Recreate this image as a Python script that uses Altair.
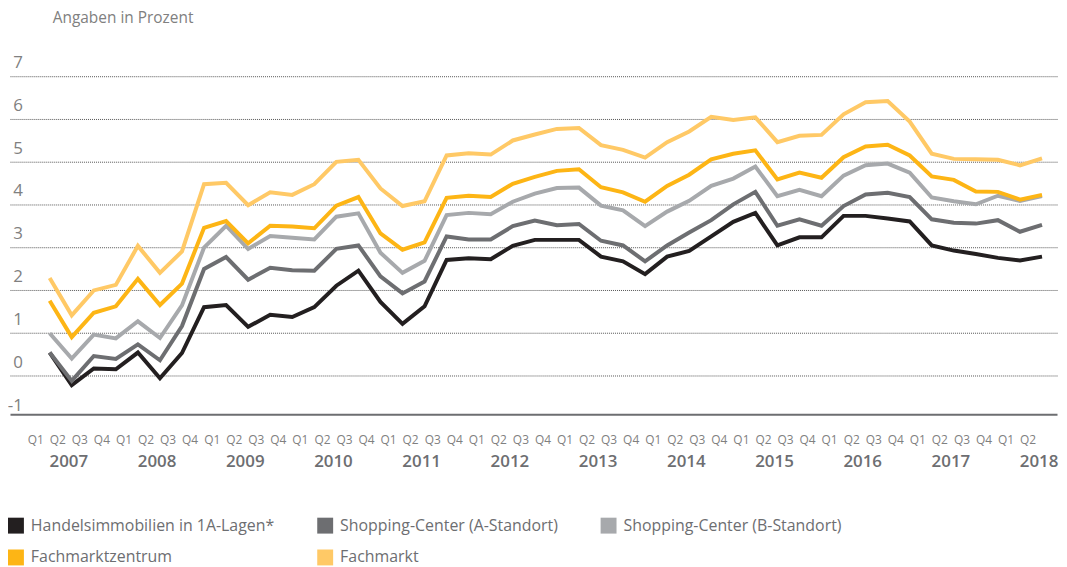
import altair as alt
import pandas as pd

years = list(range(2007, 2019))
quarter_names = ["Q1", "Q2", "Q3", "Q4"]
y_ticks = [-1, 0, 1, 2, 3, 4, 5, 6, 7]

series_names = [
    "Handelsimmobilien in 1A-Lagen*",
    "Shopping-Center (A-Standort)",
    "Shopping-Center (B-Standort)",
    "Fachmarktzentrum",
    "Fachmarkt",
]
colors = ["#231f20", "#6d6e71", "#a7a9ac", "#fdb515", "#ffc966"]

handels = [0.54, -0.22, 0.17, 0.15, 0.54, -0.06, 0.53, 1.60, 1.65, 1.14, 1.42, 1.37,
           1.60, 2.10, 2.45, 1.72, 1.21, 1.62, 2.70, 2.74, 2.72, 3.03, 3.17, 3.17,
           3.17, 2.78, 2.67, 2.37, 2.78, 2.91, 3.25, 3.59, 3.80, 3.04, 3.23,
           3.23, 3.73, 3.73, 3.67, 3.60, 3.04, 2.92, 2.84, 2.75, 2.69, 2.78]
sc_a = [0.54, -0.12, 0.46, 0.39, 0.73, 0.36, 1.16, 2.49, 2.77, 2.24, 2.52, 2.46,
        2.45, 2.96, 3.04, 2.32, 1.92, 2.20, 3.25, 3.18, 3.18, 3.49, 3.62, 3.51,
        3.54, 3.15, 3.04, 2.67, 3.04, 3.34, 3.63, 4.00, 4.29, 3.50, 3.65,
        3.50, 3.96, 4.23, 4.27, 4.17, 3.65, 3.57, 3.55, 3.63, 3.36, 3.52]
sc_b = [0.99, 0.40, 0.96, 0.87, 1.27, 0.88, 1.64, 2.99, 3.50, 2.96, 3.26, 3.22,
        3.18, 3.71, 3.79, 2.87, 2.40, 2.68, 3.75, 3.80, 3.77, 4.06, 4.25, 4.38,
        4.39, 3.97, 3.86, 3.49, 3.83, 4.08, 4.43, 4.60, 4.88, 4.19, 4.34,
        4.19, 4.67, 4.91, 4.95, 4.74, 4.16, 4.07, 4.00, 4.20, 4.08, 4.19]
fmz = [1.75, 0.90, 1.47, 1.62, 2.26, 1.65, 2.15, 3.45, 3.61, 3.09, 3.50, 3.48,
       3.44, 3.97, 4.17, 3.32, 2.94, 3.11, 4.15, 4.20, 4.17, 4.48, 4.64, 4.78,
       4.82, 4.40, 4.28, 4.06, 4.43, 4.69, 5.05, 5.18, 5.26, 4.58, 4.74,
       4.62, 5.10, 5.35, 5.39, 5.14, 4.65, 4.57, 4.30, 4.29, 4.11, 4.22]
fm = [2.28, 1.41, 1.99, 2.12, 3.03, 2.40, 2.90, 4.47, 4.50, 3.98, 4.28, 4.22,
      4.47, 4.99, 5.04, 4.37, 3.96, 4.07, 5.14, 5.19, 5.16, 5.49, 5.63, 5.76,
      5.78, 5.38, 5.27, 5.09, 5.45, 5.70, 6.04, 5.97, 6.03, 5.45, 5.60,
      5.62, 6.10, 6.38, 6.41, 5.93, 5.18, 5.06, 5.05, 5.04, 4.91, 5.07]

all_series = [handels, sc_a, sc_b, fmz, fm]
rows = []
for name, vals in zip(series_names, all_series):
    for i, v in enumerate(vals):
        rows.append({"idx": i, "value": v, "series": name})
df = pd.DataFrame(rows)
n = len(handels)

quarter_df = pd.DataFrame({"idx": list(range(n)),
                           "label": [quarter_names[i % 4] for i in range(n)]})
year_df = pd.DataFrame({"pos": [4 * k + 1.5 for k in range(len(years))],
                        "year": [str(y) for y in years]})
ylab_df = pd.DataFrame({"v": y_ticks, "label": [str(t) for t in y_ticks]})

FONT = "Open Sans"
W, H = 1053, 362

xscale = alt.Scale(domain=[-1.8, 45.68], nice=False, zero=False)
yscale = alt.Scale(domain=[-0.9, 7.5], nice=False, zero=False)

lines = alt.Chart(df).mark_line(strokeWidth=4, strokeJoin="miter").encode(
    x=alt.X("idx:Q", scale=xscale,
            axis=alt.Axis(values=list(range(n)), labels=False, grid=False, ticks=False,
                          domainColor="#6d6e71", domainWidth=2, title=None)),
    y=alt.Y("value:Q", scale=yscale,
            axis=alt.Axis(values=y_ticks[1:], grid=True, gridDash=[1, 1], gridColor="#555555",
                          gridWidth=1, labels=False, ticks=False, domain=False, title=None)),
    color=alt.Color("series:N", scale=alt.Scale(domain=series_names, range=colors),
                    sort=series_names,
                    legend=alt.Legend(orient="none", legendX=-2, legendY=466,
                                      direction="horizontal", columns=3,
                                      symbolType="square", symbolSize=64,
                                      symbolStrokeWidth=8, labelFontSize=16,
                                      labelColor="#6d6e71", labelFont=FONT, title=None,
                                      rowPadding=-8, columnPadding=30, labelOffset=7,
                                      padding=0, labelLimit=400)),
    detail="series:N",
)

quarter_text = alt.Chart(quarter_df).mark_text(
    dx=-14, fontSize=12, color="#808080", font=FONT, baseline="middle"
).encode(x=alt.X("idx:Q", scale=xscale), y=alt.value(H + 26), text="label:N")

year_text = alt.Chart(year_df).mark_text(
    dx=-14, fontSize=17, fontWeight=600, color="#6d6e71", font=FONT, baseline="middle"
).encode(x=alt.X("pos:Q", scale=xscale), y=alt.value(H + 48), text="year:N")

ylabels = alt.Chart(ylab_df).mark_text(
    align="right", baseline="middle", dy=-13, fontSize=17, color="#808080", font=FONT
).encode(x=alt.value(13), y=alt.Y("v:Q", scale=yscale), text="label:N")

chart = alt.layer(lines, quarter_text, year_text, ylabels).properties(
    width=W, height=H,
    padding={"left": 2, "top": 45, "right": 2, "bottom": 152},
    autosize=alt.AutoSizeParams(type="none"),
    title=alt.TitleParams("Angaben in Prozent", anchor="start", frame="group",
                          fontSize=15.5, fontWeight="normal", color="#808080",
                          font=FONT, dx=43, offset=28),
).configure_view(stroke=None)

chart.save("out.html", embed_options={"renderer": "svg", "actions": False})
